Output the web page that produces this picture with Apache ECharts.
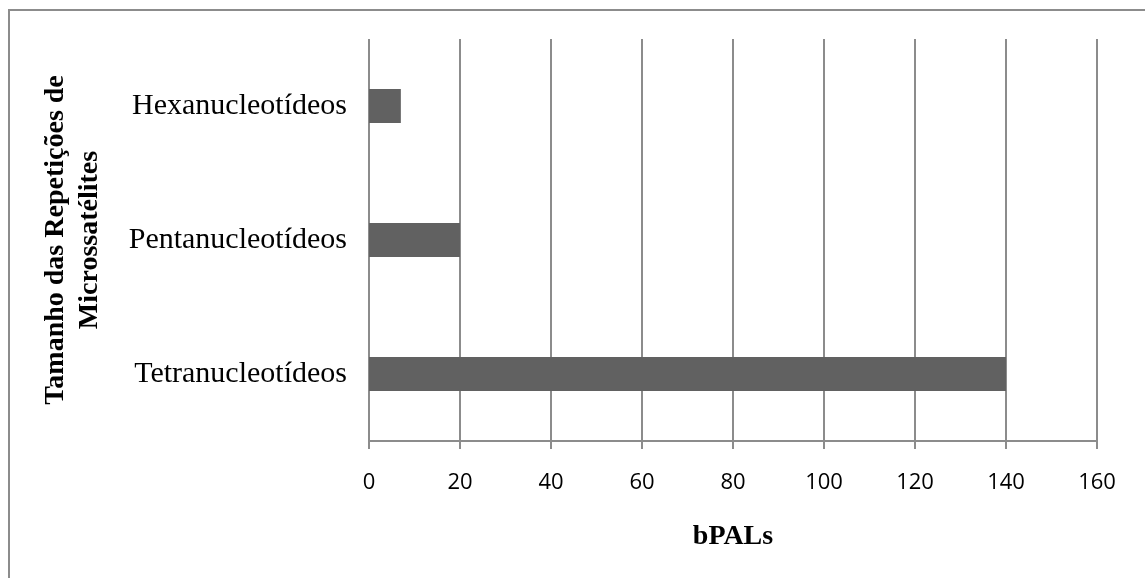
<!DOCTYPE html>
<html>
<head>
<meta charset="utf-8">
<script src="https://cdn.jsdelivr.net/npm/echarts@6/dist/echarts.min.js"></script>
<style>
html,body{margin:0;padding:0;background:#fff;}
#chart{width:1145px;height:578px;}
</style>
</head>
<body>
<div id="chart"></div>
<script>
const categories = ['Tetranucleotídeos', 'Pentanucleotídeos', 'Hexanucleotídeos'];
const values = [140, 20, 7];
const xTicks = { min: 0, max: 160, interval: 20 };
const xTitle = 'bPALs';
const yTitle = 'Tamanho das Repetições de\nMicrossatélites';

const chart = echarts.init(document.getElementById('chart'));
chart.setOption({
  backgroundColor: '#ffffff',
  animation: false,
  graphic: [{
    type: 'rect',
    shape: { x: 9, y: 10, width: 1200, height: 700 },
    style: { fill: 'none', stroke: '#8c8c8c', lineWidth: 2 },
    silent: true
  }],
  grid: { left: 369, right: 48, top: 39, bottom: 137 },
  xAxis: {
    type: 'value',
    min: xTicks.min, max: xTicks.max, interval: xTicks.interval,
    name: xTitle,
    nameLocation: 'middle',
    nameGap: 82,
    nameTextStyle: { fontFamily: 'Liberation Serif', fontWeight: 'bold', fontSize: 28, color: '#000' },
    axisLine: { show: true, lineStyle: { color: '#8c8c8c', width: 2 } },
    axisTick: { show: true, length: 8, lineStyle: { color: '#8c8c8c', width: 2 } },
    axisLabel: { margin: 31, fontFamily: 'Open Sans', fontSize: 22, color: '#000' },
    splitLine: { show: true, lineStyle: { color: '#8c8c8c', width: 2 } }
  },
  yAxis: {
    type: 'category',
    data: categories,
    name: yTitle,
    nameLocation: 'middle',
    nameRotate: 90,
    nameGap: 262,
    nameTextStyle: { fontFamily: 'Liberation Serif', fontWeight: 'bold', fontSize: 28, color: '#000', lineHeight: 34 },
    axisLine: { show: false },
    axisTick: { show: false },
    axisLabel: { margin: 22, fontFamily: 'Liberation Serif', fontSize: 30, color: '#000' },
    splitLine: { show: false }
  },
  series: [{
    type: 'bar',
    data: values,
    barWidth: 34,
    itemStyle: { color: '#616161' }
  }]
});
</script>
</body>
</html>
